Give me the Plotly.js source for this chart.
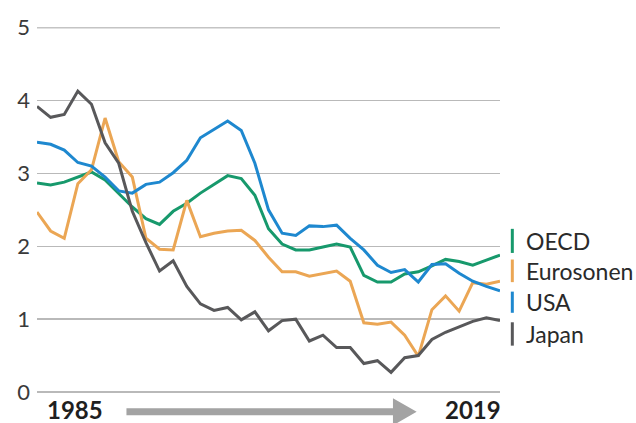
<!DOCTYPE html>
<html>
<head>
<meta charset="utf-8">
<script src="https://cdn.plot.ly/plotly-3.0.1.min.js"></script>
<style>
  html, body { margin: 0; padding: 0; background: #fff; }
  #chart { width: 636px; height: 423px; }
</style>
</head>
<body>
<div id="chart"></div>
<script>
// years on the x axis
const years = [1985, 1986, 1987, 1988, 1989, 1990, 1991, 1992, 1993, 1994,
               1995, 1996, 1997, 1998, 1999, 2000, 2001, 2002, 2003, 2004,
               2005, 2006, 2007, 2008, 2009, 2010, 2011, 2012, 2013, 2014,
               2015, 2016, 2017, 2018, 2019];

// values
const oecd = [2.87, 2.84, 2.88, 2.95, 3.02, 2.91, 2.72, 2.54, 2.38, 2.30,
              2.48, 2.59, 2.73, 2.85, 2.97, 2.93, 2.70, 2.24, 2.03, 1.95,
              1.95, 1.99, 2.03, 1.99, 1.60, 1.51, 1.51, 1.62, 1.65, 1.73,
              1.82, 1.79, 1.74, 1.81, 1.88];
const eurosonen = [2.47, 2.21, 2.11, 2.86, 3.05, 3.76, 3.16, 2.95, 2.11, 1.96,
                   1.95, 2.63, 2.13, 2.18, 2.21, 2.22, 2.08, 1.85, 1.65, 1.65,
                   1.59, 1.63, 1.66, 1.52, 0.95, 0.93, 0.96, 0.78, 0.49, 1.13,
                   1.32, 1.11, 1.50, 1.48, 1.52];
const usa = [3.43, 3.40, 3.32, 3.15, 3.10, 2.95, 2.76, 2.73, 2.85, 2.88,
             3.01, 3.18, 3.49, 3.61, 3.72, 3.59, 3.14, 2.50, 2.18, 2.15,
             2.28, 2.27, 2.29, 2.11, 1.95, 1.74, 1.64, 1.68, 1.51, 1.75,
             1.76, 1.63, 1.52, 1.45, 1.39];
const japan = [3.92, 3.77, 3.81, 4.13, 3.95, 3.42, 3.14, 2.48, 2.05, 1.66,
               1.80, 1.45, 1.21, 1.12, 1.16, 0.99, 1.10, 0.84, 0.98, 1.00,
               0.70, 0.78, 0.61, 0.61, 0.39, 0.43, 0.27, 0.47, 0.50, 0.72,
               0.82, 0.90, 0.97, 1.02, 0.98];

const seriesNames = ["OECD", "Eurosonen", "USA", "Japan"];
const seriesColors = ["#17996c", "#eba654", "#1e88cf", "#58585a"];
const seriesValues = [oecd, eurosonen, usa, japan];

const yTicks = [0, 1, 2, 3, 4, 5];
const yMax = 5;
const startLabel = "1985";
const endLabel = "2019";

const font = "Lato, 'Open Sans', sans-serif";

let traces = seriesValues.map(function (vals, i) {
    return {
        x: years,
        y: vals,
        name: seriesNames[i],
        mode: "lines",
        line: {color: seriesColors[i], width: 3},
        hoverinfo: "skip"
    };
});

// legend: coloured bar + label to the right of the plot
const legendY = [0.414, 0.332, 0.246, 0.159];
const barHalf = [0.033, 0.031, 0.029, 0.032];

let shapes = seriesNames.map(function (n, i) {
    return {
        type: "line", xref: "paper", yref: "paper",
        x0: 1.0266, x1: 1.0266,
        y0: legendY[i] - barHalf[i], y1: legendY[i] + barHalf[i],
        line: {color: seriesColors[i], width: 3}
    };
});

// top gridline (plotly skips the one on the plot edge)
shapes.push({
    type: "line", xref: "paper", yref: "y",
    x0: 0, x1: 1, y0: yMax, y1: yMax,
    layer: "below",
    line: {color: "#c4c4c4", width: 1.3}
});

// grey arrow under the plot, from start year to end year
shapes.push({
    type: "path", xref: "paper", yref: "paper",
    path: "M 0.1932 -0.0448 L 0.7688 -0.0448 L 0.7688 -0.0173 L 0.820 -0.0544 " +
          "L 0.7688 -0.0915 L 0.7688 -0.064 L 0.1932 -0.064 Z",
    fillcolor: "#a3a3a3",
    line: {width: 0}
});

let annotations = seriesNames.map(function (n, i) {
    return {
        xref: "paper", yref: "paper",
        x: 1.052, y: legendY[i],
        xanchor: "left", yanchor: "middle",
        text: n, showarrow: false,
        font: {family: font, size: 23, color: "#2a2a2a"}
    };
});

annotations.push({
    xref: "paper", yref: "paper", x: 0.0826, y: -0.049,
    xanchor: "center", yanchor: "middle",
    text: "<b>" + startLabel + "</b>", showarrow: false,
    font: {family: font, size: 24, color: "#1f1f1f"}
});
annotations.push({
    xref: "paper", yref: "paper", x: 0.9417, y: -0.049,
    xanchor: "center", yanchor: "middle",
    text: "<b>" + endLabel + "</b>", showarrow: false,
    font: {family: font, size: 24, color: "#1f1f1f"}
});

let layout = {
    width: 636,
    height: 423,
    margin: {l: 37, r: 136, t: 27, b: 31},
    paper_bgcolor: "#fff",
    plot_bgcolor: "#fff",
    showlegend: false,
    xaxis: {
        range: [1985, 2019],
        showgrid: false,
        zeroline: false,
        showline: false,
        showticklabels: false,
        ticks: ""
    },
    yaxis: {
        range: [0, 5.01],
        tickvals: yTicks,
        ticktext: yTicks.map(String),
        showgrid: true,
        gridcolor: "#b9b9b9",
        gridwidth: 1.3,
        zeroline: true,
        zerolinecolor: "#b9b9b9",
        zerolinewidth: 1.3,
        showline: false,
        ticks: "",
        ticklabelstandoff: 6,
        tickfont: {family: font, size: 22, color: "#3a3a3a"}
    },
    shapes: shapes,
    annotations: annotations
};

Plotly.newPlot("chart", traces, layout, {displayModeBar: false, staticPlot: true});
</script>
</body>
</html>
